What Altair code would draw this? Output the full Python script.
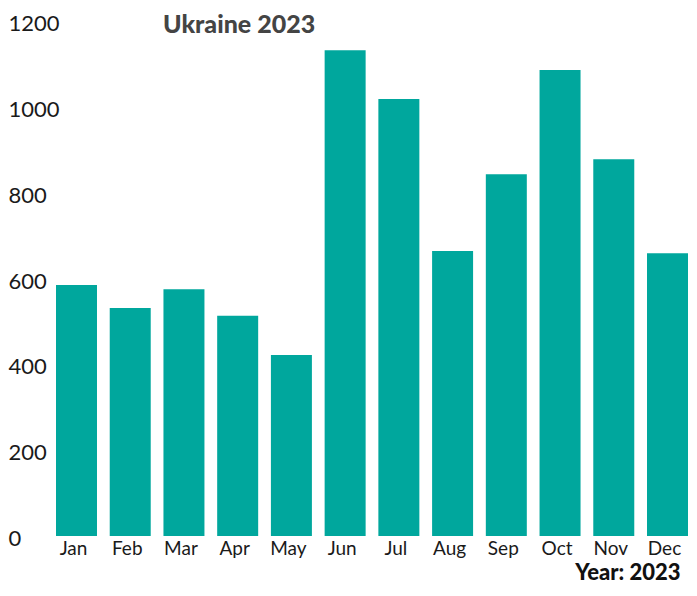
import altair as alt
import pandas as pd

months = ["Jan", "Feb", "Mar", "Apr", "May", "Jun", "Jul", "Aug", "Sep", "Oct", "Nov", "Dec"]
values = [585, 531, 575, 513, 422, 1132, 1018, 664, 843, 1086, 878, 659]
y_ticks = [0, 200, 400, 600, 800, 1000, 1200]
TITLE = "Ukraine 2023"
X_TITLE = "Year: 2023"

df = pd.DataFrame({"month": months, "value": values})

FONT = "Lato"

chart = alt.Chart(df).mark_bar(color="#00A79D").encode(
    x=alt.X(
        "month:N",
        sort=months,
        scale=alt.Scale(paddingInner=0.237, paddingOuter=0),
        axis=alt.Axis(
            title=X_TITLE,
            labelAngle=0,
            labelFont=FONT,
            labelFontSize=19,
            labelColor="#1a1a1a",
            labelPadding=3,
            labelOffset=-3,
            ticks=False,
            tickSize=0,
            domain=False,
            grid=False,
            titleFont=FONT,
            titleFontSize=22,
            titleFontWeight=900,
            titleColor="#111111",
            titleAlign="right",
            titleBaseline="alphabetic",
            titleX=624,
            titleY=43,
        ),
    ),
    y=alt.Y(
        "value:Q",
        scale=alt.Scale(domain=[0, 1200], nice=False),
        axis=alt.Axis(
            title=None,
            values=y_ticks,
            format="d",
            labelFont=FONT,
            labelFontSize=22,
            labelColor="#1a1a1a",
            labelAlign="left",
            labelPadding=48,
            labelOffset=2.5,
            ticks=False,
            tickSize=0,
            domain=False,
            grid=False,
        ),
    ),
).properties(
    width=632,
    height=515,
    title=alt.TitleParams(
        text=TITLE,
        font=FONT,
        fontSize=25,
        fontWeight=900,
        color="#444444",
        anchor="start",
        frame="group",
        dx=107,
        offset=-45,
        baseline="alphabetic",
    ),
    autosize=alt.AutoSizeParams(type="none"),
    padding={"left": 48, "top": 13, "right": 1, "bottom": 48},
).configure_view(stroke=None)

chart.save("out.html", embed_options={"renderer": "svg", "actions": False})
